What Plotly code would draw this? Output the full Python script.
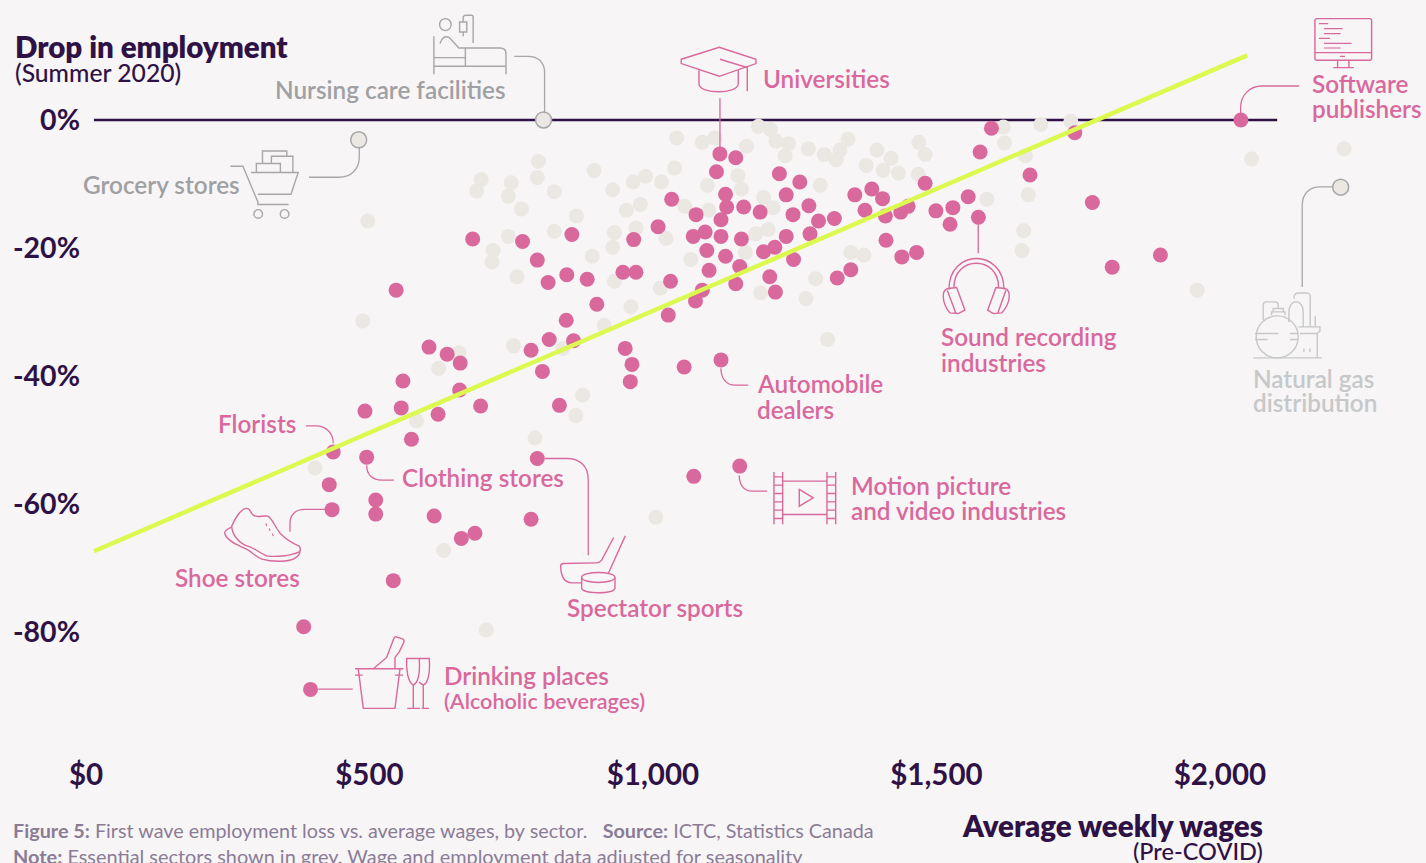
import re
import plotly.graph_objects as go

# ---------- data (weekly wage in $, employment change in %) ----------
pink_wage = [682,770,857,796,815,848,884,901,847,817,785,860,805,547,605,637,660,559,
    1118,1146,1112,1223,1259,1033,1128,1130,1160,1189,1235,1275,1247,1076,1120,1292,1320,
    1356,1386,1405,1374,1410,1437,1450,1480,1009,1092,1071,1120,1156,966,1235,1277,1411,
    1095,1128,1195,1215,1248,1439,1465,947,970,1099,1153,1349,1325,1031,1206,1146,1216,1087,1075,1027,
    1597,1577,1744,2037,1665,1556,1529,1499,1524,1574,1775,1895,1810,
    659,960,696,835,492,556,621,574,436,495,796,429,511,434,511,614,785,686,662,1072,1153,542,384,396,
    951,963,1055,1120]
pink_drop = [-18.6,-19.0,-17.9,-21.9,-25.4,-24.2,-24.9,-28.8,-31.3,-34.3,-36.0,-34.5,-39.3,-26.6,-35.5,-36.6,-38.0,-40.8,
    -5.3,-5.9,-8.1,-8.4,-9.7,-12.4,-11.6,-13.6,-13.6,-14.4,-11.7,-13.4,-14.8,-14.8,-15.6,-15.8,-15.4,
    -11.7,-10.8,-12.3,-14.1,-15.0,-14.4,-13.5,-9.9,-16.7,-17.5,-18.2,-18.2,-18.6,-18.7,-18.2,-17.8,-18.8,
    -20.4,-21.3,-20.6,-19.9,-21.8,-21.4,-20.7,-23.8,-23.8,-23.5,-22.9,-23.4,-24.7,-25.2,-24.5,-25.6,-26.9,-26.6,-28.3,-30.5,
    -1.3,-5.0,-2.0,0.0,-8.6,-12.0,-13.7,-14.2,-16.3,-15.2,-12.9,-21.1,-23.0,
    -42.2,-40.9,-44.7,-44.6,-45.5,-45.0,-46.0,-49.9,-51.9,-52.7,-52.9,-57.0,-59.4,-60.9,-61.6,-61.9,-62.4,-64.6,-65.4,-55.7,-54.1,-72.0,-79.2,-89.0,
    -35.7,-38.2,-38.6,-37.5]

grey_wage = [497,488,798,697,689,750,796,745,826,768,896,865,826,745,718,716,760,893,914,754,841,658,622,
    1042,1087,1109,1165,1186,1207,1217,1239,1233,1274,1302,1330,1344,1323,1395,1420,1376,1406,1433,1469,1480,1468,
    1038,987,965,1015,929,1096,1150,1156,1295,978,953,1056,1098,1195,1212,932,970,1023,929,1203,1181,1163,1067,1349,1372,
    932,1013,961,1287,1190,1270,1308,
    1618,1620,1684,1737,1657,1662,1589,1654,1651,2056,2219,1960,
    876,864,583,792,404,631,1005,706]
grey_drop = [-15.8,-31.4,-6.5,-9.3,-11.1,-9.8,-9.0,-11.9,-11.2,-13.9,-7.9,-15.0,-17.4,-18.2,-20.4,-22.2,-24.5,-21.3,-32.1,-35.3,-35.7,-36.4,-38.8,
    -2.8,-3.5,-2.8,-4.1,-1.0,-1.5,-3.3,-3.7,-5.6,-4.5,-5.4,-4.7,-3.0,-6.2,-4.7,-6.0,-7.1,-7.9,-8.3,-3.5,-5.4,-8.5,
    -7.5,-8.8,-9.7,-9.7,-10.9,-10.2,-8.7,-10.8,-10.2,-13.2,-14.1,-13.5,-14.1,-12.1,-13.7,-17.6,-16.9,-18.5,-19.9,-17.1,-17.8,-20.7,-21.8,-20.7,-21.1,
    -25.2,-26.3,-29.2,-24.8,-27.0,-27.9,-34.3,
    -1.1,-3.6,-0.7,-0.2,-5.6,-11.7,-12.4,-17.3,-20.4,-6.1,-4.5,-26.6,
    -43.0,-46.2,-47.0,-49.7,-54.4,-67.3,-62.1,-79.7]

called_names = ["Nursing care facilities", "Grocery stores", "Natural gas distribution"]
called_wage = [807, 481, 2213]
called_drop = [0.0, -3.1, -10.5]

trend_wage = [14, 2048]
trend_drop = [-67.4, 10.1]
zero_wage = [14, 2101]
zero_drop = [0, 0]

x_ticks = [0, 500, 1000, 1500, 2000]
x_labels = ["$0", "$500", "$1,000", "$1,500", "$2,000"]
y_ticks = [0, -20, -40, -60, -80]
y_labels = ["0%", "-20%", "-40%", "-60%", "-80%"]

# ---------- style ----------
BG = "#f7f5f6"
DARK = "#2f1245"
PINK = "#d9689c"
DOT_GREY = "#ebe7e2"
LIME = "#dcf94f"
GREY_TXT = "#9fa0a3"
GREY_LT = "#c6c8c9"
GREY_LN = "#a6a7a9"
NOTE = "#8b7c96"
FONT = "Lato"

W, H = 1426, 863
L, T, PW, PH = 86.0, 23.7, 1270.08, 723.2


def px(x):
    return (x - L) / PW


def py(y):
    return (T + PH - y) / PH


def path(d):
    toks = re.findall(r"[A-Za-z]|-?\d+\.?\d*", d)
    out, i = [], 0
    for t in toks:
        if t.isalpha():
            out.append(t)
        else:
            out.append(f"{px(float(t)) if i % 2 == 0 else py(float(t)):.5f}")
            i += 1
    return " ".join(out)


shapes = []


def draw(d, color, width=1.4):
    shapes.append(dict(type="path", xref="paper", yref="paper", path=path(d),
                       line=dict(color=color, width=width), fillcolor="rgba(0,0,0,0)"))


def ring(cx, cy, rx, ry, color, width=1.4):
    shapes.append(dict(type="circle", xref="paper", yref="paper",
                       x0=px(cx - rx), x1=px(cx + rx), y0=py(cy + ry), y1=py(cy - ry),
                       line=dict(color=color, width=width), fillcolor="rgba(0,0,0,0)"))


# leaders
for d, c in [
    ("M 720 98 L 720 147", PINK),
    ("M 1299 85.7 L 1262 85.7 C 1250 85.7 1240.7 95 1240.7 107 L 1240.7 113", PINK),
    ("M 978.3 224 L 978.3 253", PINK),
    ("M 721 368 C 721 378 726 385 735 385 L 748.3 385", PINK),
    ("M 739.3 475 C 739.3 485 744 491 752 491 L 767.3 491", PINK),
    ("M 545 458.3 L 566.7 458.3 C 580 458.3 588.3 466 588.3 480 L 588.3 555", PINK),
    ("M 366.7 465 C 366.7 474 372 480 382 480 L 394 480", PINK),
    ("M 306 425.7 L 316 425.7 C 326 425.7 333.3 433 333.3 443", PINK),
    ("M 290 531.7 L 290 523 C 290 514 296 509.3 305 509.3 L 326.7 509.3", PINK),
    ("M 318.3 689 L 352.7 689", PINK),
    ("M 309 177 L 339 177 C 351 177 359.3 169 359.3 157 L 359.3 147", GREY_LN),
    ("M 514.3 56 L 528 56 C 538 56 544.6 62 544.6 72 L 544.6 113", GREY_LN),
    ("M 1333 186.7 L 1320 186.7 C 1309 186.7 1302.3 194 1302.3 205 L 1302.3 286.7", GREY_LN),
]:
    draw(d, c, 1.3)

# graduation cap
draw("M 681.3 59 L 719.3 47 L 756 59 L 756 63.3 L 719.3 76 L 681.3 63.3 Z", PINK)
draw("M 699 70 L 699 84 C 700 94 737 94 738.3 84 L 738.3 70", PINK)
draw("M 720 59 L 747.3 67.3 L 747.3 91", PINK)
# monitor
draw("M 1317 18.3 L 1369.7 18.3 Q 1371.7 18.3 1371.7 20.3 L 1371.7 58 Q 1371.7 60 1369.7 60 L 1317 60 Q 1315 60 1315 58 L 1315 20.3 Q 1315 18.3 1317 18.3 Z", PINK)
draw("M 1315 52.3 L 1371.7 52.3 M 1337.7 60 L 1337.7 67.3 M 1349 60 L 1349 67.3 M 1333.3 67.3 L 1354 67.3", PINK)
draw("M 1319 23.3 L 1328.3 23.3 M 1324 28.3 L 1342.7 28.3 M 1324 33.3 L 1340.7 33.3 M 1319 38 L 1330 38 M 1324 43 L 1351.7 43 M 1324 47.7 L 1340.7 47.7 M 1340 56 L 1345 56", PINK, 1.2)
# headphones
draw("M 949 289.3 C 949 248 1004 248 1004 289.3", PINK)
draw("M 954 287.3 C 954 255 998.7 255 998.7 287.3", PINK)
draw("M 943.3 296.7 C 943 292 945 289 948.3 288.3 L 956.7 287.3 L 965 310 L 958.3 313.3 L 950 312.7 C 946 308 943.5 302 943.3 296.7 Z M 947.3 290 L 956 313.3", PINK)
draw("M 1009.3 296.7 C 1009.5 292 1008 289 1005 288.3 L 996 287.3 L 987.7 310 L 993.3 313.3 L 1001.7 312.7 C 1006 308 1009 302 1009.3 296.7 Z M 1006 290 L 997.7 313.3", PINK)
# film strip
draw("M 774 471.7 L 774 524 M 782.7 471.7 L 782.7 524 M 827 471.7 L 827 524 M 835.7 471.7 L 835.7 524", PINK)
for yy in [476.7, 485, 493.3, 501.7, 510, 518.3]:
    draw(f"M 774 {yy} L 782.7 {yy} M 827 {yy} L 835.7 {yy}", PINK)
draw("M 782.7 481 L 827 481 M 782.7 514.3 L 827 514.3", PINK)
draw("M 799.3 489.3 L 813.3 497.7 L 799.3 506 Z", PINK)
# shoe
draw("M 231.7 526 C 234 520 240 510 245 508.5 C 250 507 250 512 253.3 515 C 258 518 262 515 268 516 C 272 518 274 525 280 533 C 285 538 290 542 299.3 546 C 301 549 300 551 299.3 551.7 C 290 556 275 557 266.7 555.7 C 258 552 255 548 248 546 C 240 544 232 535 231.7 526 Z", PINK)
draw("M 231.7 527 C 226 529 224 532 225 534 C 227 541 238 545 245 548.3 C 252 551 255 557 262 559 C 272 562 290 562 295 558 C 298 556 300 553 300 551", PINK)
draw("M 266 523.3 L 266.7 526 M 269.3 528.3 L 270 530.7 M 272.3 533.3 L 273.3 536", PINK, 1.1)
# hockey stick and puck
draw("M 613.7 537.3 L 601.7 560 Q 599.5 562.7 596.7 562.7 L 563.3 563.3 Q 560 564 560.7 567 Q 561.5 582.7 572 582.7 L 581.7 582.7 M 625.3 535.7 L 608.3 573.3", PINK)
ring(598.3, 577.3, 16.7, 5, PINK)
draw("M 581.7 577.3 L 581.7 588.3 C 583 594 613 594 615 588.3 L 615 577.3", PINK)
# ice bucket and glasses
draw("M 355 668.7 L 403.3 668.7 M 358.3 668.7 L 363.3 708.3 L 395 708.3 L 400 668.7 M 355 675 L 362.7 675 M 395 675 L 403.3 675", PINK)
draw("M 373.3 668.7 L 386.7 657.3 L 390 648.3 L 394 638 Q 395 636 397 637 L 403 639 Q 404.5 640 404 642 L 399.3 651.7 L 395 657.3 L 395 668.7", PINK)
draw("M 406.7 658.3 L 419.3 658.3 C 420 670 419 682 413.3 685 C 408 682 406 670 406.7 658.3 Z M 413.3 685 L 413.3 708.3 M 407.3 708.3 L 420 708.3", PINK)
draw("M 419.3 658.3 L 429.3 658.3 C 430 670 429 682 423.3 685 L 419 682 M 423.3 685 L 423.3 708.3 M 421.7 708.3 L 429 708.3", PINK)
# grocery cart
draw("M 230.4 166 L 242.9 166 L 257.9 201.7 L 257.9 204.3 L 288.6 204.3", GREY_LN)
draw("M 251 172.3 L 298.2 172.3 L 291 194 L 257.9 194", GREY_LN)
ring(258.2, 213.7, 4.3, 4.3, GREY_LN)
ring(284.6, 213.7, 4.3, 4.3, GREY_LN)
draw("M 256.4 172.3 L 256.4 163.3 L 280.4 163.3 L 280.4 172.3 M 262.5 163.3 L 262.5 150.7 L 286.8 150.7 L 286.8 156 M 271.4 163.3 L 271.4 156 L 292.9 156 L 292.9 172.3", GREY_LN)
# nursing bed
ring(445.4, 24.3, 5.8, 6, GREY_LN)
draw("M 459.6 21.7 L 466.8 21.7 L 466.8 31.7 L 459.6 31.7 Z M 463.2 31.7 L 463.2 36 M 463.2 21.7 L 463.2 16.7 Q 464 15 466 15 L 471.4 15 Q 473.2 15 473.2 17 L 473.2 42.7", GREY_LN)
draw("M 433.9 36 L 433.9 74 M 506 74 L 506 53.3 Q 506 47.7 500 47.7 L 458.9 47.7 L 449.3 37.3 Q 443 34 440 43.3 M 433.9 57.3 L 465.4 57.3 M 433.9 66 L 506 66 M 465.4 47.7 L 465.4 66", GREY_LN)
# gas plant
ring(1277.3, 336.7, 21, 21, GREY_LT)
draw("M 1255 333.3 L 1278.3 333.3 M 1255 339.3 L 1267.7 339.3 M 1290 333.3 L 1298 333.3 M 1290 339.3 L 1298.5 339.3 M 1253.3 357.7 L 1321.7 357.7", GREY_LT)
draw("M 1289 321.7 L 1289 312 C 1289 298 1303.3 298 1303.3 312 L 1303.3 326.7", GREY_LT)
draw("M 1294.3 298.3 L 1294.3 296 Q 1295 292.7 1298.3 292.7 L 1306.7 292.7 Q 1310.3 293 1310.3 296 L 1310.3 326.7", GREY_LT)
draw("M 1263.3 320 L 1263.3 305 Q 1263.3 301.7 1266.7 301.7 L 1275 301.7 Q 1278.3 301.7 1278.3 305 L 1278.3 308.3", GREY_LT)
draw("M 1271.7 315 L 1271.7 311.7 L 1285 311.7 L 1285 315 M 1273.3 311.7 L 1273.3 308.3 L 1283.3 308.3 L 1283.3 311.7", GREY_LT)
draw("M 1298.3 326.7 L 1320 326.7 L 1320 331 L 1316.7 333.3 L 1300 333.3 M 1317.3 333.3 L 1317.3 357.7 M 1315.3 316 L 1315.3 326.7 M 1304 348.3 L 1304 351.7 M 1310 348.3 L 1310 351.7", GREY_LT)

# ---------- text ----------
annotations = []


def label(text, x, y, color, size=24.3, anchor="left", weight=600):
    x = x - 2 if anchor == "left" else x + 2
    annotations.append(dict(text=text, x=px(x), y=py(y - 1.5), xref="paper", yref="paper",
                            xanchor=anchor, yanchor="middle", showarrow=False, align=anchor,
                            font=dict(family=FONT, size=size, color=color, weight=weight)))


label("Drop in employment", 15, 48, DARK, 29.5, weight=800)
label("(Summer 2020)", 15, 74, DARK, 24.7, weight=500)
label("Nursing care facilities", 506, 91, GREY_TXT, anchor="right")
label("Universities", 763, 80, PINK)
label("Software", 1312, 85, PINK)
label("publishers", 1312, 110, PINK)
label("Grocery stores", 240, 186, GREY_TXT, anchor="right")
label("Natural gas", 1253, 380, GREY_LT)
label("distribution", 1253, 404, GREY_LT)
label("Sound recording", 941, 338, PINK)
label("industries", 941, 364, PINK)
label("Automobile", 757, 385, PINK)
label("dealers", 757, 411, PINK)
label("Florists", 296, 425, PINK, anchor="right")
label("Clothing stores", 402, 479, PINK)
label("Motion picture", 851, 487, PINK)
label("and video industries", 851, 512, PINK)
label("Shoe stores", 300, 579, PINK, anchor="right")
label("Spectator sports", 567, 609, PINK)
label("Drinking places", 444, 677, PINK)
label("(Alcoholic beverages)", 444, 702, PINK, 21.6)
label("<b>Figure 5:</b> First wave employment loss vs. average wages, by sector.   <b>Source:</b> ICTC, Statistics Canada", 13, 831, NOTE, 19.8, weight=400)
label("<b>Note:</b> Essential sectors shown in grey. Wage and employment data adjusted for seasonality", 13, 857, NOTE, 19.9, weight=400)
label("Average weekly wages", 1263, 827, DARK, 29.5, "right", 800)
label("(Pre-COVID)", 1263, 852, DARK, 23.5, "right", 500)

# ---------- figure ----------
fig = go.Figure()
fig.add_trace(go.Scatter(x=zero_wage, y=zero_drop, mode="lines", line=dict(color=DARK, width=2.6),
                         cliponaxis=False, hoverinfo="skip", name="Zero"))
fig.add_trace(go.Scatter(x=grey_wage, y=grey_drop, mode="markers", name="Essential sectors",
                         marker=dict(size=15, color=DOT_GREY), cliponaxis=False))
fig.add_trace(go.Scatter(x=pink_wage, y=pink_drop, mode="markers", name="Non-essential sectors",
                         marker=dict(size=15, color=PINK), cliponaxis=False))
fig.add_trace(go.Scatter(x=called_wage, y=called_drop, mode="markers", name="Called-out essential sectors",
                         text=called_names, marker=dict(size=16, color=DOT_GREY, line=dict(color=GREY_LN, width=1.5)),
                         cliponaxis=False))
fig.add_trace(go.Scatter(x=trend_wage, y=trend_drop, mode="lines", line=dict(color=LIME, width=4.5),
                         cliponaxis=False, hoverinfo="skip", name="Trend"))

x_tick_font = dict(family=FONT, size=29.5, color=DARK, weight=700)
y_tick_font = dict(family=FONT, size=28.5, color=DARK, weight=700)
fig.update_layout(
    width=W, height=H, autosize=False, showlegend=False,
    paper_bgcolor=BG, plot_bgcolor=BG,
    margin=dict(l=L, r=W - L - PW, t=T, b=H - T - PH, pad=0, autoexpand=False),
    xaxis=dict(range=[0, 2240], tickvals=x_ticks, ticktext=x_labels, showgrid=False, zeroline=False,
               showline=False, ticks="", tickfont=x_tick_font, ticklabelstandoff=7, automargin=False),
    yaxis=dict(range=[-98, 15], tickvals=y_ticks, ticktext=y_labels, showgrid=False, zeroline=False,
               showline=False, ticks="", tickfont=y_tick_font, ticklabelstandoff=5, automargin=False),
    shapes=shapes, annotations=annotations,
)
fig.write_html("out.html", config={"displayModeBar": False},
               post_script="document.body.style.margin='0';document.body.style.background='" + BG + "';")
